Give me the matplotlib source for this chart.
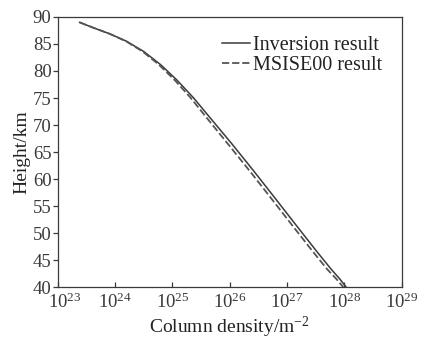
import numpy as np
import matplotlib
matplotlib.use("Agg")
import matplotlib.pyplot as plt
import matplotlib.transforms as mtransforms

plt.rcParams['font.family'] = ['Liberation Serif', 'DejaVu Serif']
plt.rcParams['mathtext.fontset'] = 'custom'
plt.rcParams['mathtext.rm'] = 'Liberation Serif'
plt.rcParams['mathtext.it'] = 'Liberation Serif:italic'

# data (log10 of column density, height in km)
height = [89.0, 88.0, 86.9, 85.5, 83.6, 81.2, 78.3, 75.0, 71.3,
          66.6, 61.6, 56.6, 51.7, 46.7, 43.3, 41.5, 40.0]
log_inversion = [23.38, 23.62, 23.90, 24.20, 24.50, 24.79, 25.08, 25.37, 25.66,
                 26.03, 26.41, 26.78, 27.14, 27.51, 27.77, 27.92, 28.03]
log_msise = [23.38, 23.62, 23.90, 24.19, 24.48, 24.76, 25.04, 25.32, 25.60,
             25.96, 26.34, 26.71, 27.07, 27.44, 27.70, 27.86, 27.98]
x_exponents = [23, 24, 25, 26, 27, 28, 29]
y_ticks = [40, 45, 50, 55, 60, 65, 70, 75, 80, 85, 90]

col = '#3a3a3a'

fig = plt.figure(figsize=(4.22, 3.39), dpi=100)
ax = fig.add_axes([0.137, 0.153, 0.815, 0.797])

ax.plot(10.0 ** np.array(log_inversion), height, color=col, lw=1.1, label='Inversion result')
ax.plot(10.0 ** np.array(log_msise), height, color='#555555', lw=1.3,
        ls=(0, (4, 1.6)), label='MSISE00 result')

ax.set_xscale('log')
ax.set_xlim(1e23, 1e29)
ax.set_ylim(40, 90)
ax.set_xticks([10.0 ** e for e in x_exponents])
ax.set_xticklabels([r'$\mathregular{10^{%d}}$' % e for e in x_exponents])
ax.minorticks_off()
ax.set_yticks(y_ticks)

ax.tick_params(axis='x', direction='in', length=3.5, width=0.9, colors=col,
               labelsize=13.5, pad=4)
ax.tick_params(axis='y', direction='out', length=3.5, width=0.9, colors=col,
               labelsize=13.5, pad=1)
for s in ax.spines.values():
    s.set_color(col)
    s.set_linewidth(0.9)

# first x label sits a bit right so it clears the "40"
first = ax.get_xticklabels()[0]
first.set_transform(first.get_transform() +
                    mtransforms.ScaledTranslation(7 / 100, 0, fig.dpi_scale_trans))

ax.set_xlabel(r'Column density/m$^{-2}$', fontsize=14, color='#222222', labelpad=2)
ax.set_ylabel('Height/km', fontsize=14, color='#222222', labelpad=2)

leg = ax.legend(loc='upper right', frameon=False, fontsize=14.5, handlelength=1.4,
                handletextpad=0.15, labelspacing=0.05, borderaxespad=0.55)
for t in leg.get_texts():
    t.set_color('#222222')

fig.savefig('out.png', dpi=100)
